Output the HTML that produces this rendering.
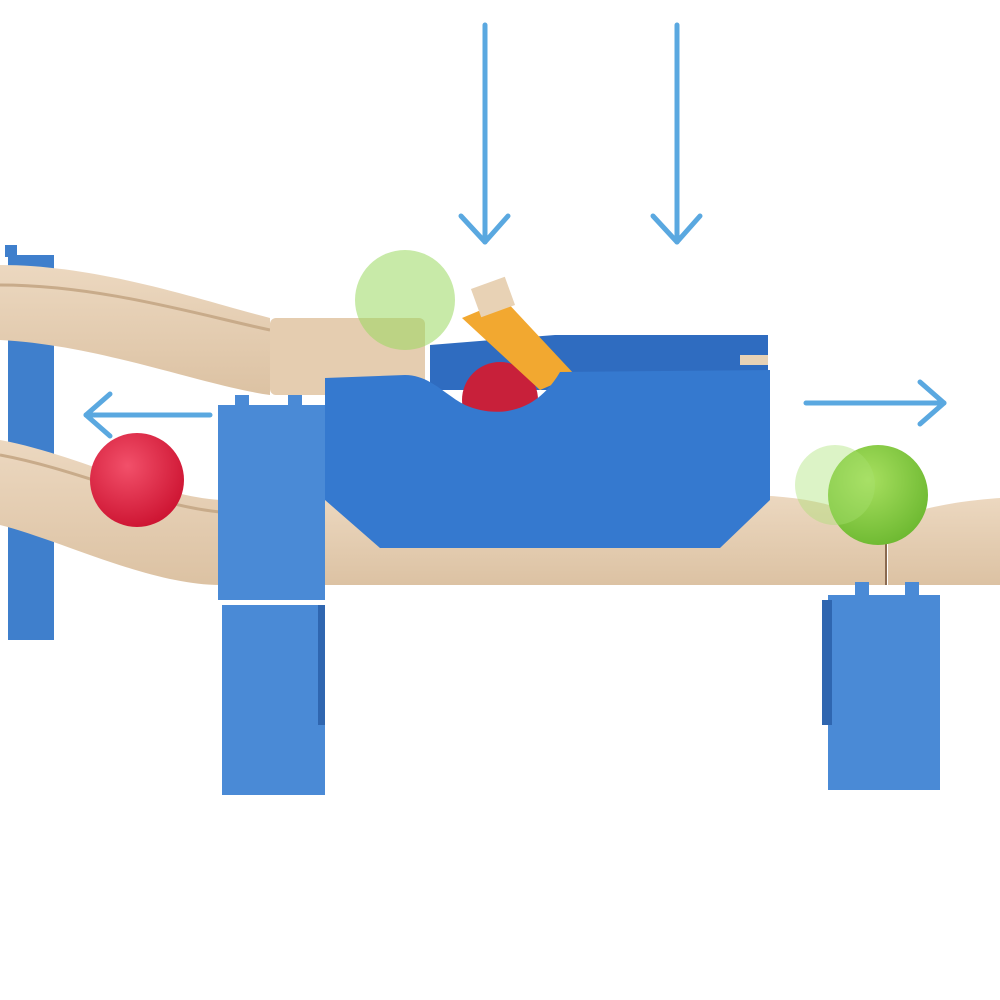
<!DOCTYPE html>
<html><head><meta charset="utf-8"><style>
html,body{margin:0;padding:0;background:#fff;}
svg{display:block}
</style></head><body>
<svg width="1000" height="1000" viewBox="0 0 1000 1000" xmlns="http://www.w3.org/2000/svg">
<defs>
<linearGradient id="wood" x1="0" y1="0" x2="0" y2="1"><stop offset="0" stop-color="#ecd8c0"/><stop offset="1" stop-color="#dcc2a3"/></linearGradient>
<radialGradient id="red" cx="0.4" cy="0.35" r="0.7"><stop offset="0" stop-color="#f2506a"/><stop offset="1" stop-color="#cc1230"/></radialGradient>
<radialGradient id="green" cx="0.4" cy="0.35" r="0.7"><stop offset="0" stop-color="#a8e060"/><stop offset="1" stop-color="#6cb830"/></radialGradient>
</defs>
<g stroke="#5aa8e0" stroke-width="5" fill="none" stroke-linecap="round" stroke-linejoin="round">
<line x1="485" y1="25" x2="485" y2="242"/><polyline points="461,216 485,242 508,216"/>
<line x1="677" y1="25" x2="677" y2="242"/><polyline points="653,216 677,242 700,216"/>
<line x1="210" y1="415" x2="86" y2="415"/><polyline points="110,394 86,415 110,436"/>
<line x1="806" y1="403" x2="944" y2="403"/><polyline points="920,382 944,403 920,424"/>
</g>
<rect x="8" y="255" width="46" height="385" fill="#3f7fcc"/>
<rect x="5" y="245" width="12" height="12" fill="#3f7fcc"/>
<path d="M0,265 C100,265 200,300 270,318 L270,395 C200,385 100,345 0,340 Z" fill="url(#wood)"/>
<path d="M0,285 C100,285 200,315 270,330" stroke="#c8ab8a" stroke-width="3" fill="none"/>
<path d="M0,440 C80,455 150,495 220,500 L220,585 C150,585 60,540 0,525 Z" fill="url(#wood)"/>
<path d="M0,455 C80,470 150,505 220,512" stroke="#c8ab8a" stroke-width="3" fill="none"/>
<circle cx="137" cy="480" r="47" fill="url(#red)"/>
<path d="M320,495 L740,495 C800,495 850,505 885,530 L885,585 L320,585 Z" fill="url(#wood)"/>
<path d="M888,520 C930,505 970,500 1000,498 L1000,585 L888,585 Z" fill="url(#wood)"/>
<rect x="270" y="318" width="155" height="77" rx="6" fill="#e5cdb0"/>
<circle cx="405" cy="300" r="50" fill="#9ad860" opacity="0.55"/>
<rect x="218" y="405" width="107" height="195" fill="#4a8ad6"/>
<rect x="222" y="605" width="103" height="190" fill="#4a8ad6"/>
<rect x="318" y="605" width="7" height="120" fill="#2f66b0"/>
<rect x="235" y="395" width="14" height="14" fill="#4a8ad6"/>
<rect x="288" y="395" width="14" height="14" fill="#4a8ad6"/>
<rect x="828" y="595" width="112" height="195" fill="#4a8ad6"/>
<rect x="822" y="600" width="10" height="125" fill="#2f66b0"/>
<rect x="855" y="582" width="14" height="14" fill="#4a8ad6"/>
<rect x="905" y="582" width="14" height="14" fill="#4a8ad6"/>
<path d="M430,345 L555,335 L768,335 L768,390 L430,390 Z" fill="#2f6cc0"/>
<circle cx="500" cy="400" r="38" fill="#c8203a"/>
<path d="M462,318 L505,300 L575,375 L540,390 Z" fill="#f2a830"/>
<rect x="475" y="282" width="36" height="30" fill="#e8d2b5" transform="rotate(-20 493 297)"/>
<rect x="740" y="355" width="28" height="10" fill="#e8d2b5"/>
<path d="M325,378 L405,375 C430,375 445,395 465,405 C495,418 535,415 560,372 L770,370 L770,500 L720,548 L380,548 L325,500 Z" fill="#3579cf"/>
<line x1="886" y1="525" x2="886" y2="585" stroke="#8a6a50" stroke-width="2"/>
<circle cx="878" cy="495" r="50" fill="url(#green)"/>
<circle cx="835" cy="485" r="40" fill="#a8e070" opacity="0.4"/>
</svg>
</body></html>
